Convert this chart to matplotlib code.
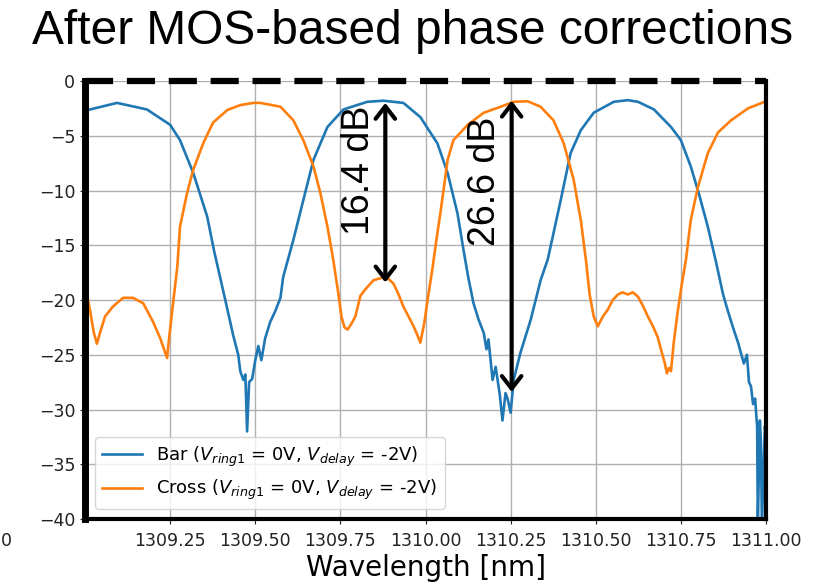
import matplotlib
matplotlib.use("Agg")
import matplotlib.pyplot as plt
import numpy as np

# measured transmission, bar port (wavelength in nm, power in dB)
bar_wl = [1309.003, 1309.015, 1309.094, 1309.182, 1309.250, 1309.279, 1309.318,
          1309.359, 1309.379, 1309.412, 1309.435, 1309.450, 1309.456, 1309.465,
          1309.471, 1309.476, 1309.482, 1309.491, 1309.500, 1309.509, 1309.518,
          1309.529, 1309.544, 1309.559, 1309.574, 1309.582, 1309.612, 1309.641,
          1309.671, 1309.712, 1309.759, 1309.829, 1309.876, 1309.935, 1309.985,
          1310.035, 1310.065, 1310.094, 1310.112, 1310.126, 1310.141, 1310.156,
          1310.171, 1310.179, 1310.185, 1310.197, 1310.206, 1310.218, 1310.226,
          1310.235, 1310.241, 1310.250, 1310.259, 1310.279, 1310.309, 1310.338,
          1310.359, 1310.397, 1310.426, 1310.456, 1310.494, 1310.553, 1310.594,
          1310.624, 1310.671, 1310.721, 1310.750, 1310.779, 1310.803, 1310.829,
          1310.853, 1310.874, 1310.888, 1310.903, 1310.918, 1310.926, 1310.935,
          1310.944, 1310.950, 1310.956, 1310.962, 1310.968, 1310.974, 1310.976,
          1310.982, 1310.985, 1310.988, 1310.994, 1310.997, 1311.000]
bar_db = [-2.7, -2.6, -2.0, -2.6, -4.0, -5.4, -8.4,
          -12.4, -15.5, -20.0, -23.2, -25.0, -26.5, -27.3,
          -26.8, -32.0, -27.5, -27.2, -25.5, -24.2, -25.5,
          -23.5, -22.0, -21.0, -19.8, -17.9, -14.5, -10.9,
          -7.2, -4.2, -2.6, -1.9, -1.8, -2.0, -3.3,
          -5.7, -8.4, -12.1, -15.5, -18.0, -20.3, -21.8,
          -23.0, -24.5, -23.6, -27.3, -26.1, -28.6, -31.0,
          -28.5, -29.0, -30.3, -27.3, -24.8, -21.8, -18.2,
          -16.3, -10.9, -6.6, -4.5, -2.9, -1.9, -1.75,
          -1.9, -2.6, -4.2, -5.4, -7.8, -10.3, -13.3,
          -16.5, -19.5, -21.0, -22.5, -23.9, -24.8, -25.8,
          -25.0, -27.5, -27.9, -29.5, -29.0, -31.6, -40.5,
          -31.0, -33.0, -40.5, -34.0, -31.5, -33.0]

# measured transmission, cross port
cross_wl = [1309.003, 1309.015, 1309.026, 1309.035, 1309.044, 1309.059, 1309.082,
            1309.112, 1309.141, 1309.171, 1309.200, 1309.221, 1309.232, 1309.241,
            1309.247, 1309.256, 1309.271, 1309.279, 1309.300, 1309.318, 1309.347,
            1309.376, 1309.418, 1309.456, 1309.494, 1309.515, 1309.574, 1309.612,
            1309.641, 1309.671, 1309.691, 1309.712, 1309.729, 1309.744, 1309.753,
            1309.762, 1309.771, 1309.782, 1309.794, 1309.809, 1309.824, 1309.847,
            1309.868, 1309.885, 1309.906, 1309.921, 1309.935, 1309.950, 1309.965,
            1309.976, 1309.985, 1309.997, 1310.006, 1310.021, 1310.032, 1310.044,
            1310.065, 1310.082, 1310.124, 1310.171, 1310.221, 1310.259, 1310.300,
            1310.338, 1310.376, 1310.406, 1310.435, 1310.456, 1310.471, 1310.482,
            1310.494, 1310.506, 1310.521, 1310.535, 1310.550, 1310.565, 1310.579,
            1310.594, 1310.609, 1310.624, 1310.638, 1310.653, 1310.668, 1310.682,
            1310.694, 1310.703, 1310.709, 1310.715, 1310.721, 1310.729, 1310.741,
            1310.753, 1310.765, 1310.779, 1310.800, 1310.829, 1310.859, 1310.897,
            1310.947, 1311.000]
cross_db = [-19.0, -21.0, -23.0, -24.0, -23.0, -21.5, -20.6,
            -19.8, -19.8, -20.3, -22.0, -23.5, -24.5, -25.3,
            -23.5, -21.0, -17.0, -13.3, -10.2, -8.1, -5.7,
            -3.8, -2.65, -2.2, -2.0, -2.0, -2.35, -3.6,
            -5.4, -7.8, -10.2, -13.3, -16.3, -19.4, -21.5,
            -22.5, -22.7, -22.2, -21.5, -19.6, -19.0, -18.2,
            -18.0, -17.9, -18.5, -19.5, -20.6, -21.5, -22.4,
            -23.2, -23.9, -22.0, -20.0, -17.0, -14.5, -12.0,
            -7.2, -5.4, -4.0, -2.9, -2.35, -1.9, -1.85,
            -2.35, -3.6, -5.7, -9.0, -12.7, -16.3, -19.5,
            -21.5, -22.4, -21.5, -20.9, -20.0, -19.5, -19.3,
            -19.5, -19.3, -19.7, -20.5, -21.5, -22.4, -23.4,
            -24.8, -25.8, -26.7, -26.2, -26.5, -23.9, -21.0,
            -18.5, -16.3, -12.7, -9.7, -6.6, -4.7, -3.6,
            -2.5, -1.85]

# extinction-ratio markers: wavelength, top level and span in dB
er_wl = [1309.882, 1310.253]
er_top = [-2.0, -1.8]
er_span = [16.4, 26.6]
er_text_pos = [(1309.806, -8.2), (1310.176, -9.2)]

xticks = [1309.25, 1309.50, 1309.75, 1310.00, 1310.25, 1310.50, 1310.75, 1311.00]
yticks = [0, -5, -10, -15, -20, -25, -30, -35, -40]

fig = plt.figure(figsize=(8.26, 5.87), dpi=100)
ax = fig.add_axes([85 / 826, 1 - 519 / 587, 681 / 826, 438 / 587])

ax.plot(bar_wl, bar_db, color="#1f77b4", lw=1.9,
        label=r"Bar ($V_{ring1}$ = 0V, $V_{delay}$ = -2V)")
ax.plot(cross_wl, cross_db, color="#ff7f0e", lw=1.9,
        label=r"Cross ($V_{ring1}$ = 0V, $V_{delay}$ = -2V)")

ax.set_xlim(1309.0, 1311.0)
ax.set_ylim(-40, 0)
ax.set_xticks(xticks)
ax.set_xticklabels(["%.2f" % t for t in xticks])
ax.set_yticks(yticks)
ax.tick_params(labelsize=12.5, colors="#222222")
ax.tick_params(axis="x", pad=6)
ax.grid(True, color="#b0b0b0", lw=1.0)
ax.set_axisbelow(True)

# heavy frame, dashed 0 dB reference on top
ax.spines["top"].set_visible(False)
ax.spines["left"].set_linewidth(5)
ax.spines["bottom"].set_linewidth(3)
ax.spines["right"].set_linewidth(3)
ax.axhline(0, color="k", lw=4.5, ls=(0, (4.5, 2.2)), clip_on=False, zorder=5)

for x, top, span, (tx, ty) in zip(er_wl, er_top, er_span, er_text_pos):
    ax.annotate("", xy=(x, top - span), xytext=(x, top),
                arrowprops=dict(arrowstyle="<->,head_length=0.45,head_width=0.35",
                                color="k", lw=3, shrinkA=0, shrinkB=0,
                                mutation_scale=20), zorder=6)
    ax.text(tx, ty, "%.1f dB" % span, rotation=90, ha="center", va="center",
            fontsize=27, family="Liberation Sans", zorder=6)

ax.legend(loc="lower left", fontsize=13, borderaxespad=0.55, framealpha=0.8,
          handlelength=2.2)
ax.set_xlabel("Wavelength [nm]", fontsize=20, labelpad=3)

fig.text(0.5, 1 - 32 / 587, "After MOS-based phase corrections", ha="center",
         va="center", fontsize=34.5, family="Liberation Sans")
fig.text(1 / 826, 1 - 541 / 587, "0", ha="left", va="center", fontsize=12.5,
         color="#222222")

fig.savefig("out.png", dpi=100)
